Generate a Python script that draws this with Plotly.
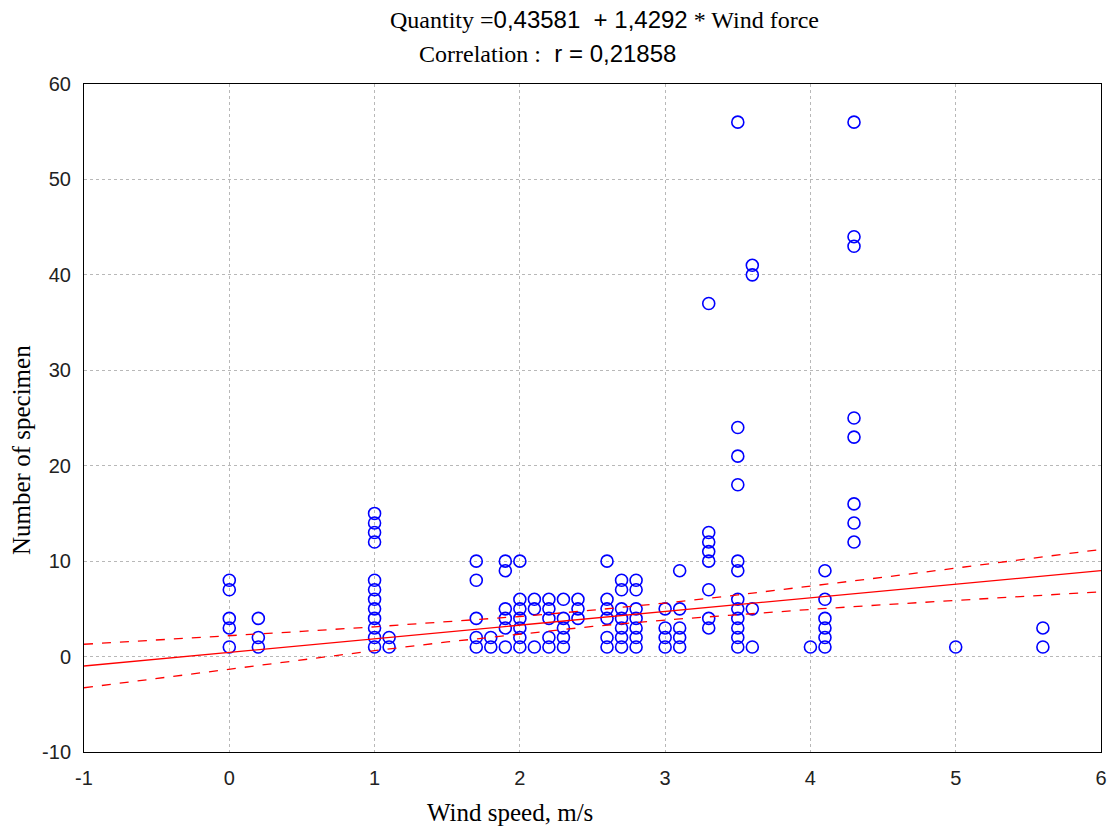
import plotly.graph_objects as go

# Observations (wind speed, m/s ; number of specimen)
wind_speed = (
    [0.0] * 5 + [0.2] * 3 + [1.0] * 12 + [1.1] * 2 + [1.7] * 5 + [1.8] * 2 +
    [1.9] * 6 + [2.0] * 7 + [2.1] * 3 + [2.2] * 5 + [2.3] * 5 + [2.4] * 3 +
    [2.6] * 6 + [2.7] * 7 + [2.8] * 7 + [3.0] * 4 + [3.1] * 5 + [3.3] * 8 +
    [3.5] * 12 + [3.6] * 4 + [4.0] * 1 + [4.1] * 6 + [4.3] * 8 + [5.0] * 1 + [5.6] * 2
)
specimen = [
    8, 7, 4, 3, 1,
    4, 2, 1,
    15, 14, 13, 12, 8, 7, 6, 5, 4, 3, 2, 1,
    2, 1,
    10, 8, 4, 2, 1,
    2, 1,
    10, 9, 5, 4, 3, 1,
    10, 6, 5, 4, 3, 2, 1,
    6, 5, 1,
    6, 5, 4, 2, 1,
    6, 4, 3, 2, 1,
    6, 5, 4,
    10, 6, 5, 4, 2, 1,
    8, 7, 5, 4, 3, 2, 1,
    8, 7, 5, 4, 3, 2, 1,
    5, 3, 2, 1,
    9, 5, 3, 2, 1,
    37, 13, 12, 11, 10, 7, 4, 3,
    56, 24, 21, 18, 10, 9, 6, 5, 4, 3, 2, 1,
    41, 40, 5, 1,
    1,
    9, 6, 4, 3, 2, 1,
    56, 44, 43, 25, 23, 16, 14, 12,
    1,
    3, 1,
]

# Regression line and 95% band
fit_x = [-1, -0.5, 0, 0.5, 1, 1.5, 2, 2.5, 3, 3.5, 4, 4.5, 5, 5.5, 6]
fit_y = [-0.99, -0.28, 0.44, 1.15, 1.87, 2.58, 3.29, 4.01, 4.72, 5.44, 6.15, 6.87, 7.58, 8.30, 9.01]
band_upper = [1.29, 1.72, 2.18, 2.64, 3.12, 3.63, 4.20, 4.86, 5.61, 6.46, 7.36, 8.31, 9.27, 10.25, 11.23]
band_lower = [-3.27, -2.28, -1.30, -0.34, 0.62, 1.53, 2.38, 3.16, 3.83, 4.42, 4.94, 5.43, 5.89, 6.35, 6.79]

x_ticks = [-1, 0, 1, 2, 3, 4, 5, 6]
y_ticks = [-10, 0, 10, 20, 30, 40, 50, 60]

title_line1 = ('<span style="font-family:Liberation Serif">Quantity =</span>'
               '0,43581  + 1,4292'
               '<span style="font-family:Liberation Serif"> * Wind force</span>')
title_line2 = ('<span style="font-family:Liberation Serif">Correlation :</span>'
               '  r = 0,21858')

serif = "Liberation Serif, Times New Roman, serif"
sans = "Liberation Sans, Arial, sans-serif"

fig = go.Figure()
fig.add_trace(go.Scatter(
    x=wind_speed, y=specimen, mode="markers",
    marker=dict(symbol="circle-open", size=12, color="#0000ff", line=dict(width=1.6, color="#0000ff")),
    showlegend=False,
))
fig.add_trace(go.Scatter(x=fit_x, y=band_upper, mode="lines",
                         line=dict(color="#ff0000", width=1.3, dash="dash"), showlegend=False))
fig.add_trace(go.Scatter(x=fit_x, y=band_lower, mode="lines",
                         line=dict(color="#ff0000", width=1.3, dash="dash"), showlegend=False))
fig.add_trace(go.Scatter(x=fit_x, y=fit_y, mode="lines",
                         line=dict(color="#ff0000", width=1.3), showlegend=False))

axis_common = dict(
    showline=True, mirror=True, linecolor="black", linewidth=1,
    showgrid=True, gridcolor="#b8b8b8", gridwidth=1, griddash="dot",
    zeroline=False, ticks="", automargin=False,
    tickfont=dict(family=sans, size=20, color="#222222"),
)
fig.update_xaxes(range=[-1, 6], tickvals=x_ticks, ticktext=[str(v) for v in x_ticks],
                 ticklabelstandoff=8, **axis_common)
fig.update_yaxes(range=[-10, 60], tickvals=y_ticks, ticktext=[str(v) for v in y_ticks],
                 ticklabelstandoff=8, **axis_common)

fig.update_layout(
    width=1108, height=826,
    margin=dict(l=84, r=7, t=84, b=74),
    paper_bgcolor="white", plot_bgcolor="white",
    font=dict(family=sans, color="black"),
    annotations=[
        dict(text=title_line1, xref="paper", yref="paper", x=(604 - 84) / 1017, y=(826 - 20 - 74) / 668,
             xanchor="center", yanchor="middle", showarrow=False,
             font=dict(family=sans, size=24, color="black")),
        dict(text=title_line2, xref="paper", yref="paper", x=(547 - 84) / 1017, y=(826 - 53 - 74) / 668,
             xanchor="center", yanchor="middle", showarrow=False,
             font=dict(family=sans, size=24, color="black")),
        dict(text="Wind speed, m/s", xref="paper", yref="paper", x=(510 - 84) / 1017, y=(826 - 812 - 74) / 668,
             xanchor="center", yanchor="middle", showarrow=False,
             font=dict(family=serif, size=25, color="black")),
        dict(text="Number of specimen", xref="paper", yref="paper", x=(22 - 84) / 1017, y=(826 - 450 - 74) / 668,
             xanchor="center", yanchor="middle", showarrow=False, textangle=-90,
             font=dict(family=serif, size=25, color="black")),
    ],
)

fig.write_html("out.html")
